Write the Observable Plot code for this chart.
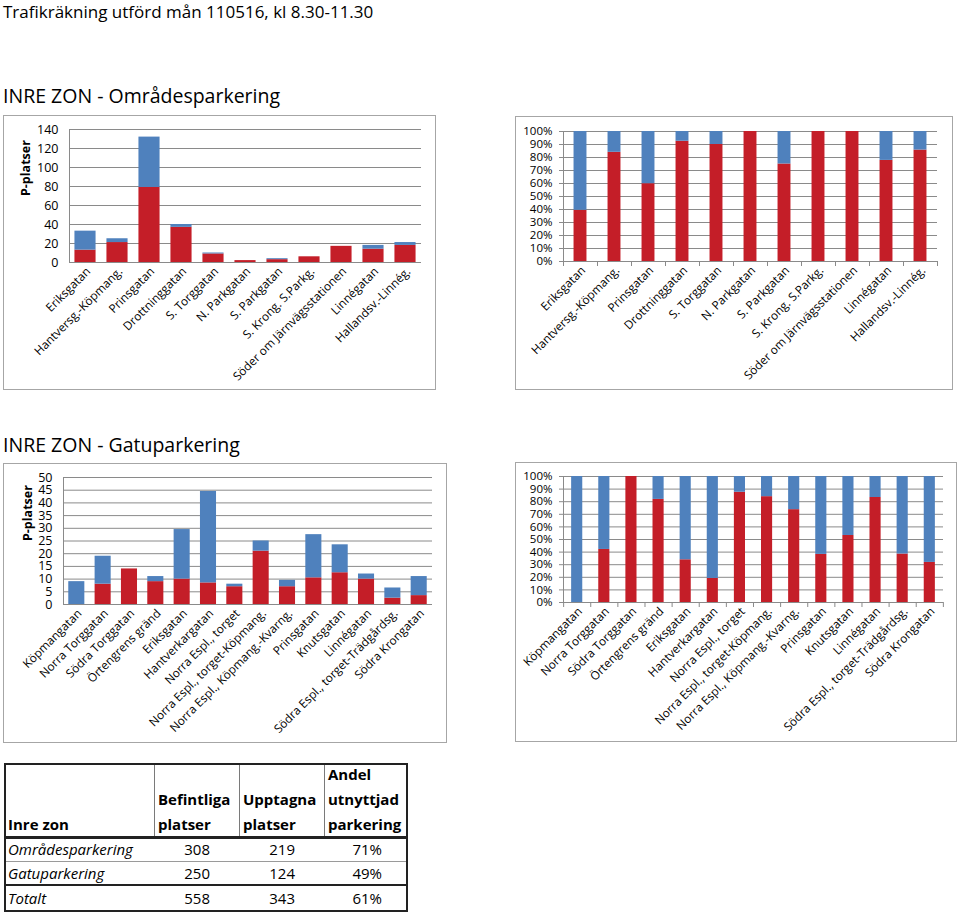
<!DOCTYPE html>
<html><head><meta charset="utf-8">
<script src="https://cdn.jsdelivr.net/npm/d3@7"></script>
<script src="https://cdn.jsdelivr.net/npm/@observablehq/plot@0.6"></script>
<style>
body{margin:0;background:#fff;font-family:"Open Sans",sans-serif;color:#000;}
#page{position:relative;width:960px;height:914px;overflow:hidden;background:#fff;}
.abs{position:absolute;white-space:nowrap;}
.box{position:absolute;box-sizing:border-box;border:1px solid #a6a6a6;pointer-events:none;}
.line{position:absolute;}
</style></head><body><div id="page"></div>
<script>
// ---- Data ----
const pageTitle = "Trafikräkning utförd mån 110516, kl 8.30-11.30";
const omrTitle = "INRE ZON - Områdesparkering";
const gatuTitle = "INRE ZON - Gatuparkering";
const yLabel = "P-platser";

const omrCats = ["Eriksgatan","Hantversg.-Köpmang.","Prinsgatan","Drottninggatan","S. Torggatan","N. Parkgatan","S. Parkgatan","S. Krong. S.Parkg.","Söder om Järnvägsstationen","Linnégatan","Hallandsv.-Linnég."];
const omrTotal    = [33,25,132,40,10,2,4,6,17,18,21];
const omrOccupied = [13,21,79,37,9,2,3,6,17,14,18];

const gatuCats = ["Köpmangatan","Norra Torggatan","Södra Torggatan","Örtengrens gränd","Eriksgatan","Hantverkargatan","Norra Espl., torget","Norra Espl., torget-Köpmang.","Norra Espl., Köpmang.-Kvarng.","Prinsgatan","Knutsgatan","Linnégatan","Södra Espl., torget-Trädgårdsg.","Södra Krongatan"];
const gatuTotal    = [9,19,14,11,29.5,44.5,8,25,9.5,27.5,23.5,12,6.5,11];
const gatuOccupied = [0,8,14,9,10,8.5,7,21,7,10.5,12.5,10,2.5,3.5];

const omrTicks  = [0,20,40,60,80,100,120,140];
const gatuTicks = [0,5,10,15,20,25,30,35,40,45,50];
const pctTicks  = [0,0.1,0.2,0.3,0.4,0.5,0.6,0.7,0.8,0.9,1];
const pctTickLabels = ["0%","10%","20%","30%","40%","50%","60%","70%","80%","90%","100%"];

const tableHeader = [["Inre zon"],["Befintliga","platser"],["Upptagna","platser"],["Andel","utnyttjad","parkering"]];
const tableRowNames = ["Områdesparkering","Gatuparkering","Totalt"];
const tableBefintliga = ["308","250","558"];
const tableUpptagna = ["219","124","343"];
const tableAndel = ["71%","49%","61%"];

// ---- Style ----
const RED = "#C41E28", BLUE = "#4F81BD", GRID = "#8a8a8a";
const page = document.getElementById("page");

function addText(txt, left, top, size, extra = "") {
  const d = document.createElement("div");
  d.className = "abs";
  d.style.cssText = `left:${left}px;top:${top}px;font-size:${size}px;line-height:${size}px;${extra}`;
  d.textContent = txt;
  page.appendChild(d);
  return d;
}

function chart(cfg) {
  const {cats, total, occ, pct, bx, by, bw, bh, ml, mr, mt, mb, pi, po, ticks, tickLabels, yTickSize, labelDx} = cfg;
  const rows = cats.map((c, i) => ({cat: c, total: total[i], occ: occ[i], share: occ[i] / total[i]}));
  const mid = d => pct ? d.share : d.occ;
  const top = d => pct ? 1 : d.total;
  const step = (bw - ml - mr) / cats.length;
  const marks = [
    Plot.gridY(ticks, {stroke: GRID, strokeOpacity: 1}),
    Plot.barY(rows, {x: "cat", y1: 0, y2: mid, fill: RED}),
    Plot.barY(rows, {x: "cat", y1: mid, y2: top, fill: BLUE}),
    Plot.ruleY([0], {stroke: GRID}),
    Plot.frame({anchor: "left", stroke: GRID}),
    Plot.axisY({ticks, tickSize: yTickSize, tickPadding: 11 - yTickSize, stroke: GRID,
      tickFormat: (d) => tickLabels ? tickLabels[ticks.indexOf(d)] : String(d),
      fontSize: pct ? 11.5 : 12.5, label: null}),
    Plot.axisX({tickRotate: -45, tickSize: 0, tickPadding: 7, dx: 3, fontSize: 11.8, label: null})
  ];
  if (pct) {
    marks.push(Plot.axisX({tickSize: 5, dx: -step / 2, stroke: GRID, tickFormat: () => "", label: null}));
    marks.push(Plot.axisX({ticks: [cats[cats.length - 1]], tickSize: 5, dx: step / 2, stroke: GRID, tickFormat: () => "", label: null}));
  } else {
    marks.push(Plot.text([yLabel], {frameAnchor: "left", rotate: -90, dx: labelDx, fontWeight: "bold", fontSize: 12.5, fill: "black"}));
  }
  const svg = Plot.plot({
    width: bw, height: bh,
    marginLeft: ml, marginRight: mr, marginTop: mt, marginBottom: mb,
    x: {type: "band", domain: cats, paddingInner: pi, paddingOuter: po, round: false, axis: null},
    y: {domain: [ticks[0], ticks[ticks.length - 1]], axis: null},
    style: {fontFamily: '"Open Sans", sans-serif', color: "black", background: "white", overflow: "visible"},
    marks
  });
  svg.style.position = "absolute";
  svg.style.left = bx + "px";
  svg.style.top = by + "px";
  page.appendChild(svg);
  const box = document.createElement("div");
  box.className = "box";
  box.style.cssText = `left:${bx}px;top:${by}px;width:${bw}px;height:${bh}px;`;
  page.appendChild(box);
}

// Titles
addText(pageTitle, 3, 3, 17);
addText(omrTitle, 3, 86, 19.5);
addText(gatuTitle, 3, 435, 19.5);

// Charts
chart({cats: omrCats, total: omrTotal, occ: omrOccupied, pct: false,
  bx: 3, by: 115, bw: 433, bh: 275, ml: 66, mr: 15, mt: 14, mb: 128, pi: 0.34, po: 0.17,
  ticks: omrTicks, yTickSize: 0, labelDx: -44});
chart({cats: omrCats, total: omrTotal, occ: omrOccupied, pct: true,
  bx: 515, by: 116, bw: 438, bh: 274, ml: 48, mr: 16, mt: 15, mb: 129, pi: 0.62, po: 0.31,
  ticks: pctTicks, tickLabels: pctTickLabels, yTickSize: 4});
chart({cats: gatuCats, total: gatuTotal, occ: gatuOccupied, pct: false,
  bx: 3, by: 463, bw: 444, bh: 280, ml: 60, mr: 15, mt: 14, mb: 139, pi: 0.39, po: 0.2,
  ticks: gatuTicks, yTickSize: 0, labelDx: -36});
chart({cats: gatuCats, total: gatuTotal, occ: gatuOccupied, pct: true,
  bx: 515, by: 462, bw: 442, bh: 280, ml: 48, mr: 14, mt: 14, mb: 140, pi: 0.59, po: 0.3,
  ticks: pctTicks, tickLabels: pctTickLabels, yTickSize: 4});

// Table
(function table() {
  const L = 4, T = 763, R = 408, B = 912;
  const colX = [4, 154, 239, 324, 408];
  const headerBottom = 837;
  const rowY = [837, 861, 885, 912];
  const rightEdges = [null, 210, 295, 382];
  function line(x, y, w, h, c) {
    const d = document.createElement("div");
    d.className = "line";
    d.style.cssText = `left:${x}px;top:${y}px;width:${w}px;height:${h}px;background:${c};`;
    page.appendChild(d);
  }
  tableHeader.forEach((lines, i) => {
    const d = document.createElement("div");
    d.className = "abs";
    const lh = 25;
    d.style.cssText = `left:${colX[i] + 4}px;top:${headerBottom - lh * lines.length}px;font-size:15px;line-height:${lh}px;font-weight:bold;`;
    d.innerHTML = lines.join("<br>");
    page.appendChild(d);
  });
  tableRowNames.forEach((name, r) => {
    const y0 = rowY[r], h = rowY[r + 1] - rowY[r];
    const vals = [name, tableBefintliga[r], tableUpptagna[r], tableAndel[r]];
    vals.forEach((v, c) => {
      const d = document.createElement("div");
      d.className = "abs";
      if (c === 0) {
        d.style.cssText = `left:${colX[0] + 4}px;top:${y0}px;height:${h}px;font-size:15px;line-height:${h}px;font-style:italic;`;
      } else {
        d.style.cssText = `right:${960 - rightEdges[c]}px;top:${y0}px;height:${h}px;font-size:15px;line-height:${h}px;`;
      }
      d.textContent = v;
      page.appendChild(d);
    });
  });
  [154, 239, 324].forEach(x => line(x, T, 1, headerBottom - T, "#7a7a7a"));
  line(L, 861, R - L, 1, "#9a9a9a");
  line(L, headerBottom - 1, R - L, 3, "#222");
  line(L, 884, R - L, 2, "#222");
  const ob = document.createElement("div");
  ob.style.cssText = `position:absolute;left:${L}px;top:${T}px;width:${R - L}px;height:${B - T}px;box-sizing:border-box;border:2px solid #222;`;
  page.appendChild(ob);
})();
</script></body></html>
